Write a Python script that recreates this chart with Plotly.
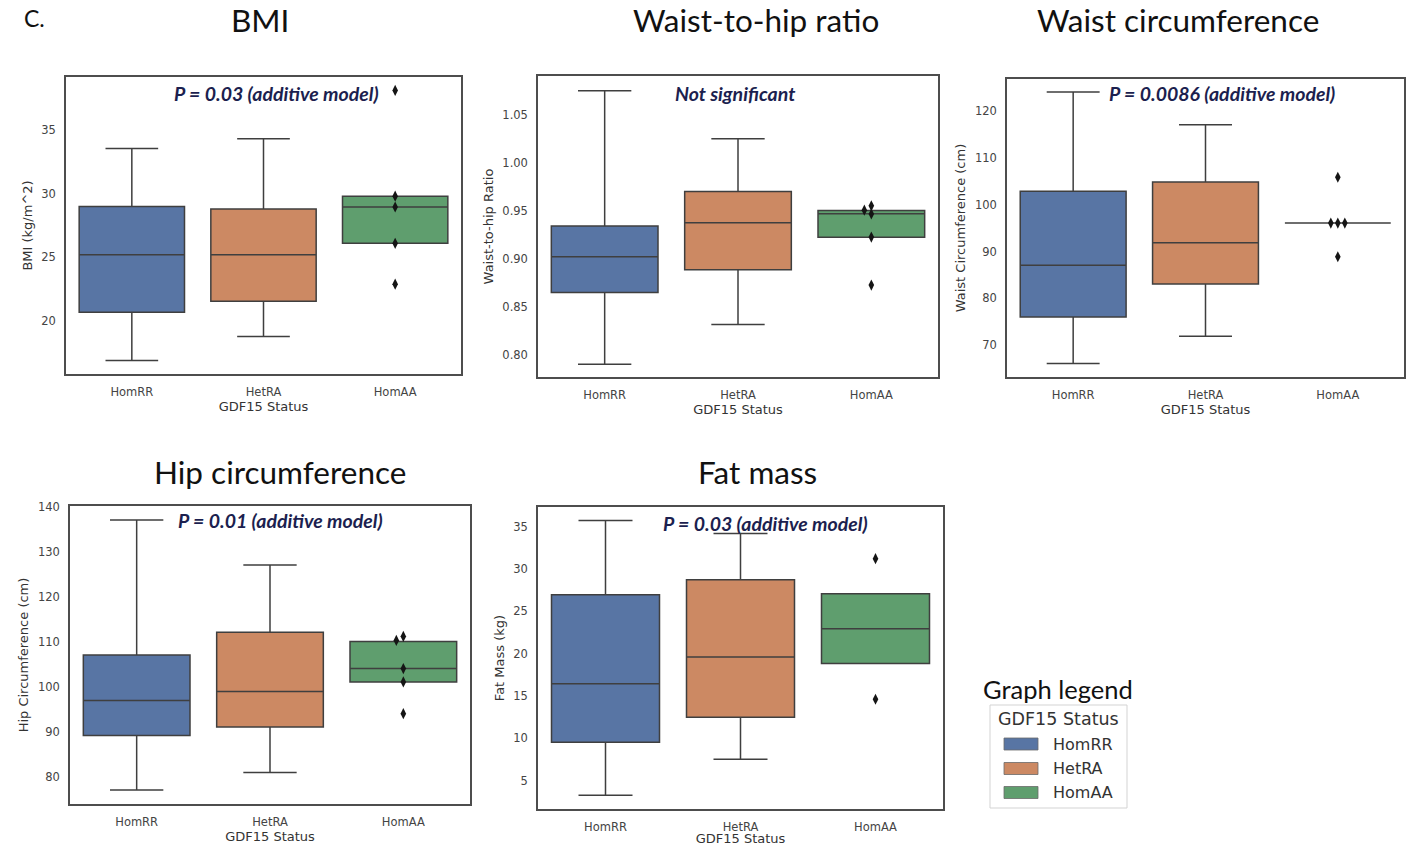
import plotly.graph_objects as go

W, H = 1412, 846

categories = ["HomRR", "HetRA", "HomAA"]
box_colors = ["#5875a4", "#cc8963", "#5f9e6e"]

# ---- BMI ----
bmi_low = [16.9, 18.8, 26.1]
bmi_q1 = [20.7, 21.55, 26.1]
bmi_median = [25.2, 25.2, 28.95]
bmi_q3 = [29.0, 28.8, 29.8]
bmi_high = [33.55, 34.3, 29.8]
bmi_homaa_points = [38.1, 29.8, 28.95, 26.1, 22.9]

# ---- Waist-to-hip ratio ----
whr_low = [0.7906, 0.832, 0.9229]
whr_q1 = [0.8653, 0.8889, 0.9229]
whr_median = [0.9024, 0.9378, 0.9472]
whr_q3 = [0.9344, 0.9704, 0.9507]
whr_high = [1.0753, 1.0253, 0.9507]
whr_homaa_points = [0.9555, 0.951, 0.947, 0.923, 0.873]

# ---- Waist circumference ----
waist_low = [66.1, 71.9, 96.1]
waist_q1 = [76.0, 83.1, 96.1]
waist_median = [87.1, 91.9, 96.1]
waist_q3 = [102.9, 104.9, 96.1]
waist_high = [124.1, 117.1, 96.1]
waist_homaa_points = [105.9, 96.1, 96.1, 96.1, 88.9]

# ---- Hip circumference ----
hip_low = [77.1, 81.0, 101.1]
hip_q1 = [89.2, 91.1, 101.1]
hip_median = [97.0, 98.96, 104.06]
hip_q3 = [107.05, 112.1, 110.07]
hip_high = [137.05, 127.05, 110.07]
hip_homaa_points = [111.2, 110.3, 104.06, 101.1, 94.06]

# ---- Fat mass ----
fat_low = [3.26, 7.52, 18.82]
fat_q1 = [9.53, 12.48, 18.82]
fat_median = [16.42, 19.6, 22.92]
fat_q3 = [26.94, 28.7, 27.06]
fat_high = [35.7, 34.17, 27.06]
fat_homaa_points = [31.2, 14.6]

panels = [
    dict(title="BMI", ylabel="BMI (kg/m^2)", note="P = 0.03 (additive model)",
         low=bmi_low, q1=bmi_q1, med=bmi_median, q3=bmi_q3, high=bmi_high, pts=bmi_homaa_points,
         px=(66, 461, 77, 374), yrange=[15.85, 39.15], dtick=5, fmt="",
         title_xy=(260, 20), note_xy=(276, 93)),
    dict(title="Waist-to-hip ratio", ylabel="Waist-to-hip Ratio", note="Not significant",
         low=whr_low, q1=whr_q1, med=whr_median, q3=whr_q3, high=whr_high, pts=whr_homaa_points,
         px=(538, 938, 76, 377), yrange=[0.7774, 1.0906], dtick=0.05, fmt=".2f",
         title_xy=(756, 20), note_xy=(735, 93)),
    dict(title="Waist circumference", ylabel="Waist Circumference (cm)", note="P = 0.0086 (additive model)",
         low=waist_low, q1=waist_q1, med=waist_median, q3=waist_q3, high=waist_high, pts=waist_homaa_points,
         px=(1007, 1404, 79, 377), yrange=[63.2, 126.9], dtick=10, fmt="",
         title_xy=(1178, 20), note_xy=(1222, 93)),
    dict(title="Hip circumference", ylabel="Hip Circumference (cm)", note="P = 0.01 (additive model)",
         low=hip_low, q1=hip_q1, med=hip_median, q3=hip_q3, high=hip_high, pts=hip_homaa_points,
         px=(70, 470, 506, 804), yrange=[74.0, 140.15], dtick=10, fmt="",
         title_xy=(280, 472), note_xy=(280, 520)),
    dict(title="Fat mass", ylabel="Fat Mass (kg)", note="P = 0.03 (additive model)",
         low=fat_low, q1=fat_q1, med=fat_median, q3=fat_q3, high=fat_high, pts=fat_homaa_points,
         px=(538, 943, 507, 809), yrange=[1.64, 37.3], dtick=5, fmt="",
         title_xy=(757, 472), note_xy=(765, 523)),
]


def swarm_offsets(values, px_per_unit, px_per_cat, marker_px=7.0):
    placed, offs = [], []
    cands = [0]
    for i in range(1, 10):
        cands += [-i, i]
    for v in values:
        y = v * px_per_unit
        x = 0.0
        for c in cands:
            x = c * marker_px
            if all((x - a) ** 2 + (y - b) ** 2 >= marker_px ** 2 for a, b in placed):
                break
        placed.append((x, y))
        offs.append(x / px_per_cat)
    return offs


fig = go.Figure()
LINE = "#3f3f3f"
TICKFONT = dict(family="DejaVu Sans", size=11.5, color="#444444")
LABFONT = dict(family="DejaVu Sans", size=13, color="#333333")
annotations = []

for n, p in enumerate(panels, start=1):
    xa = "x" if n == 1 else f"x{n}"
    ya = "y" if n == 1 else f"y{n}"
    x0, x1, t, b = p["px"]
    for i, cat in enumerate(categories):
        fig.add_trace(go.Box(
            x=[i], q1=[p["q1"][i]], median=[p["med"][i]], q3=[p["q3"][i]],
            lowerfence=[p["low"][i]], upperfence=[p["high"][i]],
            width=0.8, whiskerwidth=0.5, fillcolor=box_colors[i],
            line=dict(color=LINE, width=1.5), boxpoints=False,
            name=cat, showlegend=False, xaxis=xa, yaxis=ya))
    ppu = (b - t) / (p["yrange"][1] - p["yrange"][0])
    ppc = (x1 - x0) / 3.0
    offs = swarm_offsets(p["pts"], ppu, ppc)
    fig.add_trace(go.Scatter(
        x=[2 + o for o in offs], y=p["pts"], mode="markers",
        marker=dict(symbol="diamond-tall", size=8, color="#151515", line=dict(width=0)),
        showlegend=False, xaxis=xa, yaxis=ya))

    xkey = "xaxis" if n == 1 else f"xaxis{n}"
    ykey = "yaxis" if n == 1 else f"yaxis{n}"
    fig.update_layout(**{
        xkey: dict(domain=[x0 / W, x1 / W], range=[-0.5, 2.5], anchor=ya,
                   tickmode="array", tickvals=[0, 1, 2], ticktext=categories,
                   showline=True, mirror=True, linecolor="#4d4d4d", linewidth=1.5,
                   showgrid=False, zeroline=False, ticks="", ticklabelstandoff=6,
                   tickfont=TICKFONT, automargin=False,
                   title=dict(text="GDF15 Status", font=LABFONT, standoff=2)),
        ykey: dict(domain=[1 - b / H, 1 - t / H], range=p["yrange"], anchor=xa,
                   dtick=p["dtick"], tickformat=p["fmt"],
                   showline=True, mirror=True, linecolor="#4d4d4d", linewidth=1.5,
                   showgrid=False, zeroline=False, ticks="", ticklabelstandoff=6,
                   tickfont=TICKFONT, automargin=False,
                   title=dict(text=p["ylabel"], font=LABFONT, standoff=6)),
    })
    tx, ty = p["title_xy"]
    annotations.append(dict(text=p["title"], x=tx / W, y=1 - ty / H, xref="paper", yref="paper",
                            showarrow=False, xanchor="center", yanchor="middle",
                            font=dict(family="Lato", size=31.5, color="#111111")))
    nx, ny = p["note_xy"]
    annotations.append(dict(text=f"<b><i>{p['note']}</i></b>", x=nx / W, y=1 - ny / H,
                            xref="paper", yref="paper", showarrow=False,
                            xanchor="center", yanchor="middle",
                            font=dict(family="Lato", size=19.5, color="#1c1f4f")))

# Panel letter
annotations.append(dict(text="C.", x=22 / W, y=1 - 18 / H, xref="paper", yref="paper",
                        showarrow=False, xanchor="left", yanchor="middle",
                        font=dict(family="Lato", size=23, color="#111111")))

# Graph legend (drawn)
annotations.append(dict(text="Graph legend", x=1058 / W, y=1 - 689 / H, xref="paper", yref="paper",
                        showarrow=False, xanchor="center", yanchor="middle",
                        font=dict(family="Lato", size=25.5, color="#111111")))
annotations.append(dict(text="GDF15 Status", x=1058 / W, y=1 - 719 / H, xref="paper", yref="paper",
                        showarrow=False, xanchor="center", yanchor="middle",
                        font=dict(family="DejaVu Sans", size=17.5, color="#333333")))
shapes = [dict(type="rect", xref="paper", yref="paper",
               x0=990 / W, x1=1127 / W, y0=1 - 808 / H, y1=1 - 705 / H,
               line=dict(color="#d3d3d3", width=1), fillcolor="white", layer="below")]
legend_y = [744, 768.5, 792.5]
for i, cat in enumerate(categories):
    yc = legend_y[i]
    shapes.append(dict(type="rect", xref="paper", yref="paper",
                       x0=1004 / W, x1=1038 / W, y0=1 - (yc + 6) / H, y1=1 - (yc - 6) / H,
                       line=dict(color="#6a6a6a", width=0.8), fillcolor=box_colors[i]))
    annotations.append(dict(text=cat, x=1051 / W, y=1 - yc / H, xref="paper", yref="paper",
                            showarrow=False, xanchor="left", yanchor="middle",
                            font=dict(family="DejaVu Sans", size=16, color="#333333")))

fig.update_layout(width=W, height=H, margin=dict(l=0, r=0, t=0, b=0),
                  paper_bgcolor="white", plot_bgcolor="white",
                  boxmode="overlay", showlegend=False,
                  annotations=annotations, shapes=shapes)

fig.write_html("out.html", config={"displayModeBar": False},
               post_script="document.body.style.margin='0';document.body.style.overflow='hidden';")
